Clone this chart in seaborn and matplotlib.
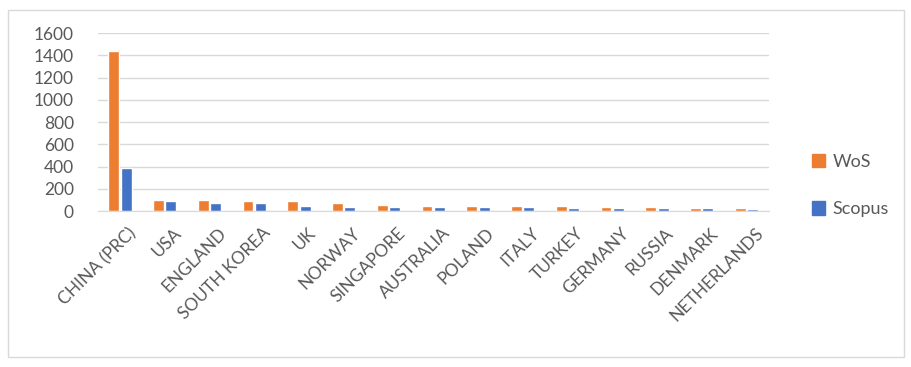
import pandas as pd
import seaborn as sns
import matplotlib.pyplot as plt
from matplotlib.patches import Rectangle, Patch
from matplotlib.transforms import ScaledTranslation

# Daten
laender = ["CHINA (PRC)", "USA", "ENGLAND", "SOUTH KOREA", "UK", "NORWAY", "SINGAPORE",
           "AUSTRALIA", "POLAND", "ITALY", "TURKEY", "GERMANY", "RUSSIA", "DENMARK", "NETHERLANDS"]
wos = [1434, 103, 96, 87, 87, 73, 57, 48, 48, 48, 42, 33, 33, 30, 30]
scopus = [388, 94, 76, 76, 45, 39, 39, 39, 39, 33, 30, 27, 27, 30, 21]

df = pd.DataFrame({"Land": laender * 2,
                   "Anzahl": wos + scopus,
                   "Quelle": ["WoS"] * len(wos) + ["Scopus"] * len(scopus)})

sns.set_style("white")
plt.rcParams['font.family'] = ['Lato', 'DejaVu Sans']
farben = {"WoS": "#ED7D31", "Scopus": "#4472C4"}
grau = "#595959"

fig = plt.figure(figsize=(9.12, 3.67), dpi=100)
ax = fig.add_axes([0.107, 0.425, 0.736, 0.485])

sns.barplot(data=df, x="Land", y="Anzahl", hue="Quelle", palette=farben, saturation=1,
            width=0.55, gap=0.12, legend=False, ax=ax)

ax.set_ylim(0, 1600)
ax.set_yticks(range(0, 1601, 200))
ax.yaxis.grid(True, color="#d9d9d9", linewidth=1)
ax.set_axisbelow(True)
ax.set_xlabel("")
ax.set_ylabel("")
for s in ["top", "right", "left"]:
    ax.spines[s].set_visible(False)
ax.spines["bottom"].set_color("#d9d9d9")
ax.tick_params(axis="both", length=0, labelsize=12.5, colors=grau)
ax.tick_params(axis="y", pad=17)
ax.tick_params(axis="x", pad=10)
versatz = ScaledTranslation(6 / 72, 0, fig.dpi_scale_trans)
for lab in ax.get_xticklabels():
    lab.set_rotation(45)
    lab.set_ha("right")
    lab.set_rotation_mode("anchor")
    lab.set_transform(lab.get_transform() + versatz)

# Legende rechts
handles = [Patch(color=farben[k]) for k in ["WoS", "Scopus"]]
leg = ax.legend(handles, ["WoS", "Scopus"], loc="center left", bbox_to_anchor=(1.04, 0.143),
                frameon=False, fontsize=13, handlelength=0.75, handleheight=0.75,
                labelspacing=1.75, handletextpad=0.4)
for t in leg.get_texts():
    t.set_color(grau)

# Rahmen
fig.patches.append(Rectangle((0.009, 0.027), 0.982, 0.946, transform=fig.transFigure,
                             fill=False, edgecolor="#d9d9d9", linewidth=1))

fig.savefig("out.png", dpi=100)
